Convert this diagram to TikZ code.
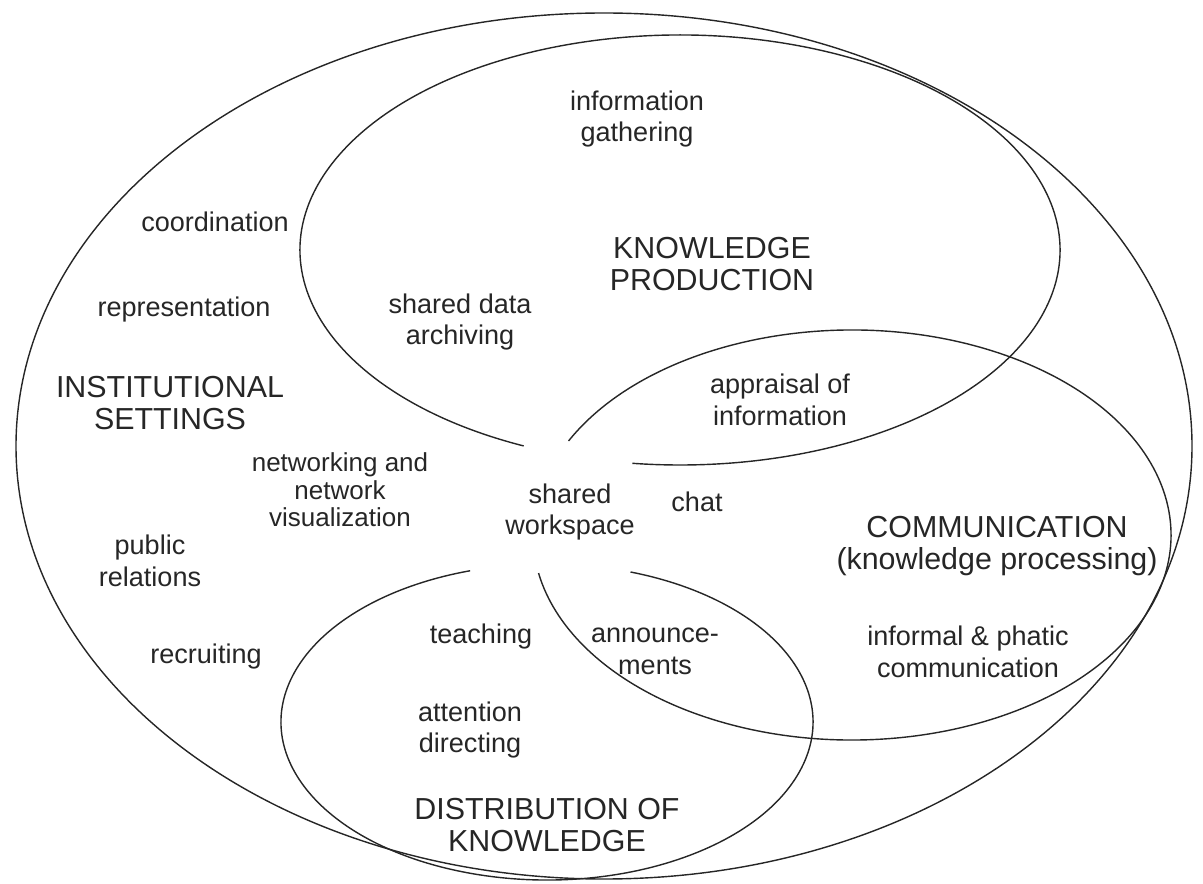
\documentclass[tikz,border=0pt]{standalone}
\usepackage{fontspec}
\setmainfont{Liberation Sans}
\begin{document}
\begin{tikzpicture}[x=0.02cm,y=-0.02cm,
    item/.style={align=center,inner sep=0pt,text=black!85,font=\fontsize{15.4}{18.2}\selectfont},
    area/.style={align=center,inner sep=0pt,text=black!85,font=\fontsize{17.3}{18.6}\selectfont},
    ring/.style={draw=black!85,line width=0.8pt}]
  \useasboundingbox (0,0) rectangle (1203,884);

  % centres of the rings
  \coordinate (inst) at (604,446);
  \coordinate (prod) at (680,250);
  \coordinate (comm) at (852,535);
  \coordinate (dist) at (547,722);

  % outer ring and the three open loops round the centre
  \draw[ring] (inst) ellipse [x radius=588, y radius=433];
  \draw[ring] (prod) ++(114.3:380 and 215)
    arc [start angle=114.3, end angle=457.2, x radius=380, y radius=215];
  \draw[ring] (comm) ++(207.3:319 and 205)
    arc [start angle=207.3, end angle=529.3, x radius=319, y radius=205];
  \draw[ring] (dist) ++(288.3:266 and 158)
    arc [start angle=288.3, end angle=613.2, x radius=266, y radius=158];

  % centre
  \node[item] (ws)     at (570,512) {shared\\workspace};

  % knowledge production
  \node[area] (kp)     at (712,264) {KNOWLEDGE\\PRODUCTION};
  \node[item] (gather) at (637,119) {information\\gathering};
  \node[item] (archiv) at (460,322) {shared data\\archiving};
  \node[item] (apprai) at (780,400) {appraisal of\\information};

  % institutional settings
  \node[area] (is)     at (170,403) {INSTITUTIONAL\\SETTINGS};
  \node[item] (coord)  at (215,222) {coordination};
  \node[item] (repr)   at (184,310) {representation};
  \node[item,font=\fontsize{14.8}{15.6}\selectfont]
              (netw)   at (340,490) {networking and\\network\\visualization};
  \node[item] (pr)     at (150,561) {public\\relations};
  \node[item] (recr)   at (206,657) {recruiting};

  % communication
  \node[area] (cm)     at (997,546) {COMMUNICATION\\(knowledge processing)};
  \node[item] (chat)   at (697,502) {chat};
  \node[item] (ann)    at (655,651) {announce-\\ments};
  \node[item] (phatic) at (968,652) {informal \& phatic\\communication};

  % distribution of knowledge
  \node[area] (dk)     at (547,825) {DISTRIBUTION OF\\KNOWLEDGE};
  \node[item] (teach)  at (481,637) {teaching};
  \node[item] (attn)   at (470,730) {attention\\directing};
\end{tikzpicture}
\end{document}
